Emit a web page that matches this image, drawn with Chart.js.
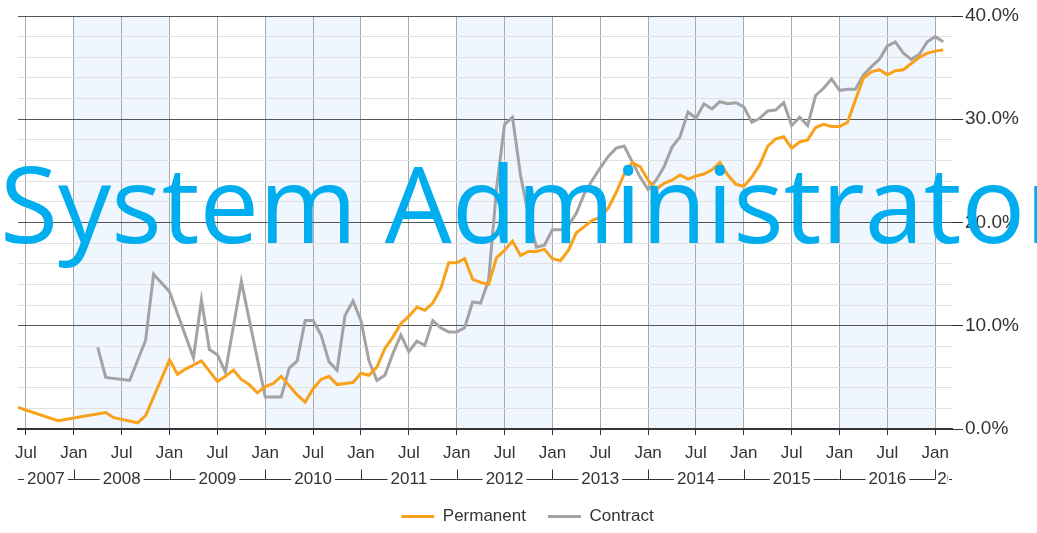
<!DOCTYPE html>
<html>
<head>
<meta charset="utf-8">
<title>System Administrator</title>
<script src="https://cdn.jsdelivr.net/npm/chart.js@4.4.1/dist/chart.umd.min.js"></script>
<style>
	html, body { margin: 0; padding: 0; background: #fff; }
	#wrap { width: 1037px; height: 533px; }
</style>
</head>
<body>
<div id="wrap"><canvas id="jobChart" width="1037" height="533"></canvas></div>
<script>
// first month of both series [year, month]
const firstMonth = [2007, 6];

// Permanent, % per month from Jun 2007 (null = no point that month)
const permanent = [
	2.1, null, null, null, null, 0.8, null,
	null, null, null, null, 1.6, 1.1, null, null, 0.6, 1.3, null, null,
	6.7, 5.3, 5.8, 6.2, 6.6, 5.6, 4.6, 5.1, 5.7, 4.8, 4.3, 3.5,
	4.1, 4.4, 5.1, 4.2, 3.3, 2.6, 3.9, 4.8, 5.1, 4.3, 4.4, 4.5,
	5.4, 5.2, 6.0, 7.8, 8.9, 10.2, 10.9, 11.8, 11.5, 12.2, 13.6, 16.1,
	16.1, 16.5, 14.5, 14.2, 14.0, 16.6, 17.3, 18.2, 16.8, 17.2, 17.2, 17.4,
	16.5, 16.3, 17.3, 19.0, 19.6, 20.2, 20.5, 21.4, 22.9, 24.7, 25.8, 25.4,
	24.1, 23.2, 23.8, 24.1, 24.6, 24.2, 24.5, 24.7, 25.1, 25.8, 24.6, 23.7,
	23.5, 24.4, 25.6, 27.4, 28.1, 28.3, 27.2, 27.8, 28.0, 29.2, 29.5, 29.3,
	29.3, 29.7, 31.9, 34.0, 34.6, 34.8, 34.3, 34.7, 34.8, 35.4, 36.0, 36.4,
	36.6, 36.7
];

// Contract, same months
const contract = [
	null, null, null, null, null, null, null,
	null, null, null, 7.9, 5.0, null, null, 4.7, null, 8.6, 15.0, null,
	13.3, null, null, 6.9, 12.5, 7.7, 7.2, 5.5, null, 14.3, null, null,
	3.1, 3.1, 3.1, 5.9, 6.6, 10.5, 10.5, 9.1, 6.5, 5.7, 11.0, 12.4,
	10.5, 6.6, 4.7, 5.2, 7.3, 9.1, 7.5, 8.5, 8.1, 10.5, 9.8, 9.4,
	9.4, 9.8, 12.3, 12.2, 14.4, 23.3, 29.5, 30.2, 24.6, 20.7, 17.6, 17.8,
	19.3, 19.3, 19.7, 20.9, 22.8, 24.1, 25.3, 26.4, 27.2, 27.4, 25.9, 24.4,
	23.2, 24.1, 25.4, 27.3, 28.3, 30.7, 30.1, 31.5, 31.0, 31.7, 31.5, 31.6,
	31.2, 29.7, 30.1, 30.8, 30.9, 31.6, 29.4, 30.2, 29.4, 32.3, 33.0, 33.9,
	32.8, 32.9, 32.9, 34.3, 35.1, 35.8, 37.1, 37.5, 36.4, 35.8, 36.3, 37.5,
	38.0, 37.5
];

const seriesNames = ['Permanent', 'Contract'];
const seriesColors = ['#f9a11b', '#a3a3a3'];
const halfYearLabels = ['Jan', 'Jul'];
const years = [2007, 2008, 2009, 2010, 2011, 2012, 2013, 2014, 2015, 2016, 2017];
const shadedYears = [2008, 2010, 2012, 2014, 2016];
const yMin = 0, yMax = 40, yMajor = 10, yMinor = 2;
const watermark = 'System Administrator';

// month counter (months since year 0), so Jan = multiple of 12
const baseMonth = firstMonth[0] * 12 + firstMonth[1] - 1;
const toPoints = (arr) => arr.map((v, i) => ({ x: baseMonth + i, y: v }));

const FONT = '"Liberation Sans", Arial, sans-serif';
Chart.defaults.font.family = FONT;
Chart.defaults.color = '#333';

// shaded years, year row under the axis, watermark
const decorPlugin = {
	id: 'decor',
	beforeDraw(chart) {
		const { ctx, chartArea: a, scales: { x } } = chart;
		ctx.save();
		ctx.fillStyle = '#f0f6fd';
		shadedYears.forEach((yr) => {
			const x0 = Math.max(a.left, x.getPixelForValue(yr * 12));
			const x1 = Math.min(a.right, x.getPixelForValue((yr + 1) * 12));
			if (x1 > x0) ctx.fillRect(x0, a.top, x1 - x0, a.bottom - a.top);
		});
		ctx.restore();
	},
	afterDraw(chart) {
		const { ctx, chartArea: a, scales: { x } } = chart;
		const rowY = Math.round(a.bottom + 50) + 0.5;

		ctx.save();
		ctx.font = '17px ' + FONT;
		ctx.textBaseline = 'middle';
		ctx.fillStyle = '#333';
		ctx.strokeStyle = '#333';
		ctx.lineWidth = 1;

		years.forEach((yr) => {
			const jan = x.getPixelForValue(yr * 12);
			const s = Math.max(a.left, jan);
			const e = Math.min(a.right, x.getPixelForValue((yr + 1) * 12));
			if (e <= s) return;
			const label = String(yr);
			const w = ctx.measureText(label).width;
			const mid = (s + e) / 2;

			ctx.beginPath();
			if (w + 8 < e - s) {
				ctx.moveTo(s, rowY); ctx.lineTo(mid - w / 2 - 3, rowY);
				ctx.moveTo(mid + w / 2 + 3, rowY); ctx.lineTo(e, rowY);
				ctx.stroke();
				ctx.textAlign = 'center';
				ctx.fillText(label, mid, rowY);
			} else {
				// not enough room: clipped label
				ctx.moveTo(e - 3, rowY); ctx.lineTo(e, rowY);
				ctx.stroke();
				ctx.save();
				ctx.beginPath();
				ctx.rect(s, rowY - 12, e - s - 4, 24);
				ctx.clip();
				ctx.textAlign = 'left';
				ctx.fillText(label, s + 2, rowY);
				ctx.restore();
			}
			if (jan >= a.left) {
				const px = Math.round(jan) + 0.5;
				ctx.beginPath();
				ctx.moveTo(px, rowY - 10); ctx.lineTo(px, rowY);
				ctx.stroke();
			}
		});

		ctx.font = '106px "Open Sans"';
		ctx.fillStyle = '#00aeef';
		ctx.textAlign = 'left';
		ctx.textBaseline = 'alphabetic';
		ctx.fillText(watermark, 0, 243);
		ctx.restore();
	}
};

const ctx = document.getElementById('jobChart');
new Chart(ctx, {
	type: 'line',
	data: {
		datasets: [
			{ label: seriesNames[0], data: toPoints(permanent), borderColor: seriesColors[0], backgroundColor: seriesColors[0] },
			{ label: seriesNames[1], data: toPoints(contract), borderColor: seriesColors[1], backgroundColor: seriesColors[1] }
		]
	},
	options: {
		responsive: false,
		animation: false,
		events: [],
		spanGaps: true,
		elements: {
			line: { borderWidth: 3, tension: 0 },
			point: { radius: 0 }
		},
		layout: { padding: { left: 18, top: 16, right: 0, bottom: 0 } },
		scales: {
			x: {
				type: 'linear',
				min: baseMonth,
				max: baseMonth + 117.1,
				afterBuildTicks: (s) => {
					const ticks = [];
					for (let m = Math.ceil(s.min / 6) * 6; m <= s.max; m += 6) ticks.push({ value: m });
					s.ticks = ticks;
				},
				afterFit: (s) => { s.height = 57; },
				ticks: {
					autoSkip: false,
					maxRotation: 0,
					padding: 8,
					font: { size: 17 },
					color: '#333',
					callback: (v) => halfYearLabels[(v % 12) / 6]
				},
				grid: { color: '#aaa', tickColor: '#333', tickLength: 6 },
				border: { color: '#333', width: 2 }
			},
			y: {
				position: 'right',
				min: yMin,
				max: yMax,
				afterFit: (s) => { s.width = 85; },
				ticks: {
					stepSize: yMinor,
					autoSkip: false,
					padding: 2,
					font: { size: 19 },
					color: '#333',
					callback: (v) => (v % yMajor === 0 ? v.toFixed(1) + '%' : '')
				},
				grid: {
					color: (c) => (c.tick.value % yMajor === 0 ? '#555' : '#e0e0e0'),
					tickColor: (c) => (c.tick.value % yMajor === 0 ? '#333' : 'rgba(0,0,0,0)'),
					tickLength: 11
				},
				border: { display: false }
			}
		},
		plugins: {
			tooltip: { enabled: false },
			legend: {
				position: 'bottom',
				maxHeight: 47,
				labels: {
					boxWidth: 33,
					boxHeight: 3,
					padding: 22,
					color: '#333',
					font: { size: 17 },
					generateLabels: (chart) => Chart.defaults.plugins.legend.labels.generateLabels(chart).map((l) => {
						l.lineWidth = 0;
						l.fillStyle = l.strokeStyle;
						return l;
					})
				}
			}
		}
	},
	plugins: [decorPlugin]
});
</script>
</body>
</html>
